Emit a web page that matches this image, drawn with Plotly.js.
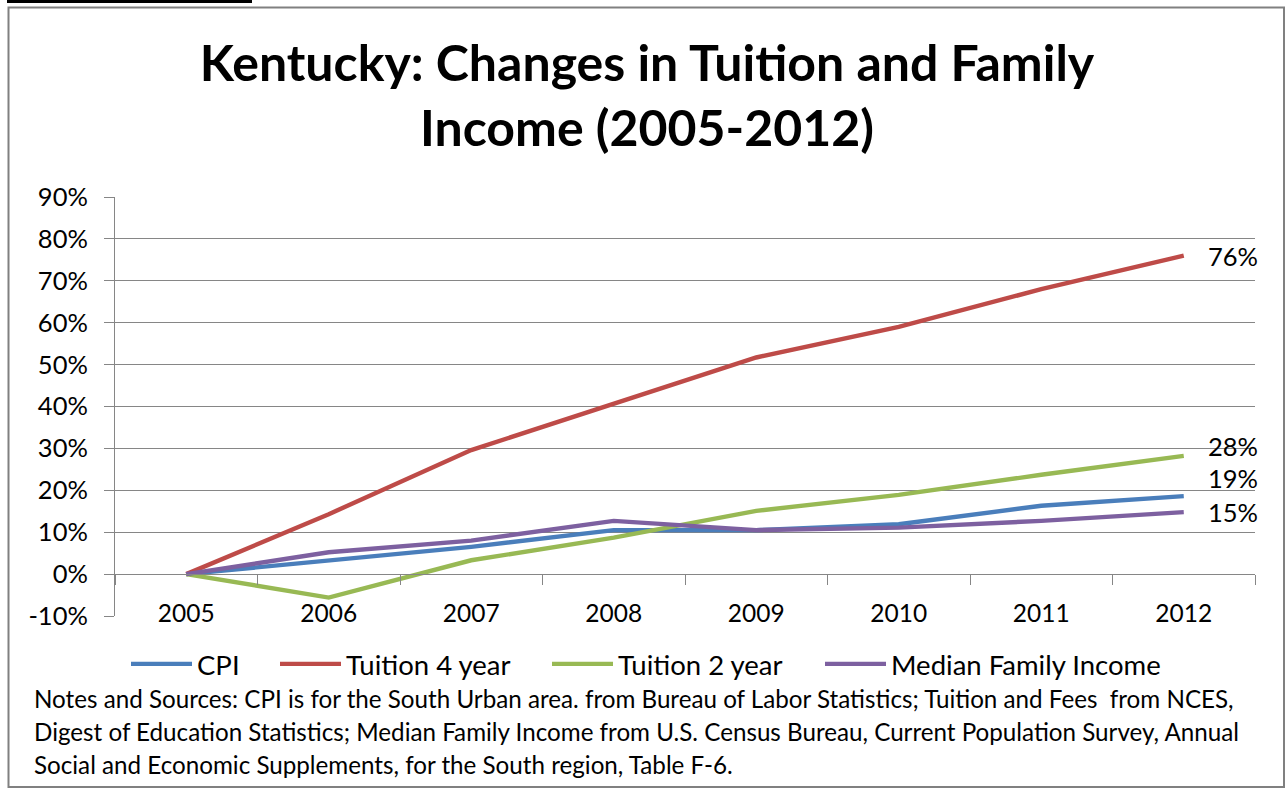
<!DOCTYPE html>
<html>
<head>
<meta charset="utf-8">
<script src="https://cdn.plot.ly/plotly-3.0.1.min.js"></script>
<style>
  html, body { margin: 0; padding: 0; background: #fff; }
  #chart { width: 1286px; height: 789px; }
</style>
</head>
<body>
<div id="chart"></div>
<script>
// ---- Data (percent change since 2005) ----
const years = ['2005', '2006', '2007', '2008', '2009', '2010', '2011', '2012'];
const cpi = [0, 3.2, 6.5, 10.5, 10.5, 11.9, 16.3, 18.6];
const tuition4 = [0, 14.3, 29.6, 40.7, 51.7, 59.0, 68.0, 76.0];
const tuition2 = [0, -5.6, 3.3, 8.7, 15.1, 18.9, 23.7, 28.2];
const medianIncome = [0, 5.2, 8.0, 12.7, 10.5, 11.1, 12.7, 14.8];
const seriesNames = ['CPI', 'Tuition 4 year', 'Tuition 2 year', 'Median Family Income'];
const endLabels = ['19%', '76%', '28%', '15%'];
const yTickVals = [-10, 0, 10, 20, 30, 40, 50, 60, 70, 80, 90];
const yTickText = ['-10%', '0%', '10%', '20%', '30%', '40%', '50%', '60%', '70%', '80%', '90%'];
const notesLines = [
  'Notes and Sources: CPI is for the South Urban area. from Bureau of Labor Statistics; Tuition and Fees  from NCES,',
  'Digest of Education Statistics; Median Family Income from U.S. Census Bureau, Current Population Survey, Annual',
  'Social and Economic Supplements, for the South region, Table F-6.'
];

const allSeries = [cpi, tuition4, tuition2, medianIncome];
const colors = ['#4A7EBB', '#BE4B48', '#98B954', '#7D60A0'];
const labelShift = [18, 0, 10, 0];
const legendIds = ['legend', 'legend2', 'legend3', 'legend4'];
const legendLineStart = [131, 280, 552, 825];

const FONT = 'Lato, "Open Sans", sans-serif';

const traces = allSeries.map((vals, i) => ({
  type: 'scatter',
  mode: 'lines',
  x: years,
  y: vals,
  name: seriesNames[i],
  legend: legendIds[i],
  line: { color: colors[i], width: 4.4 },
  hoverinfo: 'x+y+name'
}));

// plot area in pixels: x 115..1255, y 197..616
const L = 115, R = 31, T = 197, B = 173;
const W = 1286, H = 789;
const pw = W - L - R, ph = H - T - B;
const px = v => (v - L) / pw;
const py = v => (H - B - v) / ph;

const annotations = allSeries.map((vals, i) => ({
  x: vals.length - 1,
  y: vals[vals.length - 1],
  xref: 'x', yref: 'y',
  text: endLabels[i],
  showarrow: false,
  xanchor: 'left', yanchor: 'middle',
  xshift: 22, yshift: labelShift[i],
  font: { family: FONT, size: 25.5, color: '#000' }
}));

const noteY = [698, 731, 764];
notesLines.forEach((t, i) => annotations.push({
  x: px(32), y: py(noteY[i]),
  xref: 'paper', yref: 'paper',
  text: t, showarrow: false,
  xanchor: 'left', yanchor: 'middle',
  font: { family: FONT, size: 24.2, color: '#000' }
}));

const layout = {
  width: W, height: H,
  margin: { l: L, r: R, t: T, b: B },
  paper_bgcolor: '#fff',
  plot_bgcolor: 'rgba(0,0,0,0)',
  font: { family: FONT, color: '#000' },
  title: {
    text: 'Kentucky: Changes in Tuition and Family<br>Income (2005-2012)',
    x: 647 / W, xref: 'container', xanchor: 'center',
    y: 1 - 81 / H, yref: 'container', yanchor: 'middle',
    font: { family: FONT, size: 50, weight: 'bold', color: '#000' }
  },
  showlegend: true,
  xaxis: {
    type: 'category',
    range: [-0.5, 7.5],
    anchor: 'free',
    position: 0.1,
    showgrid: false,
    zeroline: false,
    showline: true, linecolor: '#868686', linewidth: 1,
    ticks: 'outside', tickson: 'boundaries', ticklen: 10, tickcolor: '#868686', tickwidth: 1,
    ticklabelstandoff: 17,
    tickfont: { family: FONT, size: 24.5, color: '#000' },
    fixedrange: true
  },
  yaxis: {
    range: [-10, 90],
    tickmode: 'array',
    tickvals: yTickVals,
    ticktext: yTickText,
    showgrid: true, gridcolor: '#868686', gridwidth: 1,
    zeroline: false,
    showline: true, linecolor: '#868686', linewidth: 1,
    ticks: 'outside', ticklen: 10, tickcolor: '#868686', tickwidth: 1,
    tickfont: { family: FONT, size: 25.5, color: '#000' },
    ticklabelstandoff: 11,
    fixedrange: true
  },
  shapes: [
    { type: 'rect', xref: 'paper', yref: 'paper',
      x0: px(8.5), x1: px(1284), y0: py(787), y1: py(7.5),
      line: { color: '#808080', width: 2 }, fillcolor: 'rgba(0,0,0,0)', layer: 'below' },
    { type: 'line', xref: 'paper', yref: 'paper',
      x0: px(7), x1: px(252), y0: py(1.5), y1: py(1.5),
      line: { color: '#000', width: 3 } }
  ],
  annotations: annotations
};

legendIds.forEach((id, i) => {
  layout[id] = {
    orientation: 'h',
    x: px(legendLineStart[i] - 5), y: py(664),
    xanchor: 'left', yanchor: 'middle',
    font: { family: FONT, size: 27.5, color: '#000' },
    bgcolor: 'rgba(0,0,0,0)',
    itemwidth: 61
  };
});

Plotly.newPlot('chart', traces, layout, { displayModeBar: false, staticPlot: true }).then(gd => {
  // lengthen legend line samples to match the reference's longer swatches
  gd.querySelectorAll('.legendlines path').forEach(p => p.setAttribute('d', 'M5,0h61'));
});
</script>
</body>
</html>
